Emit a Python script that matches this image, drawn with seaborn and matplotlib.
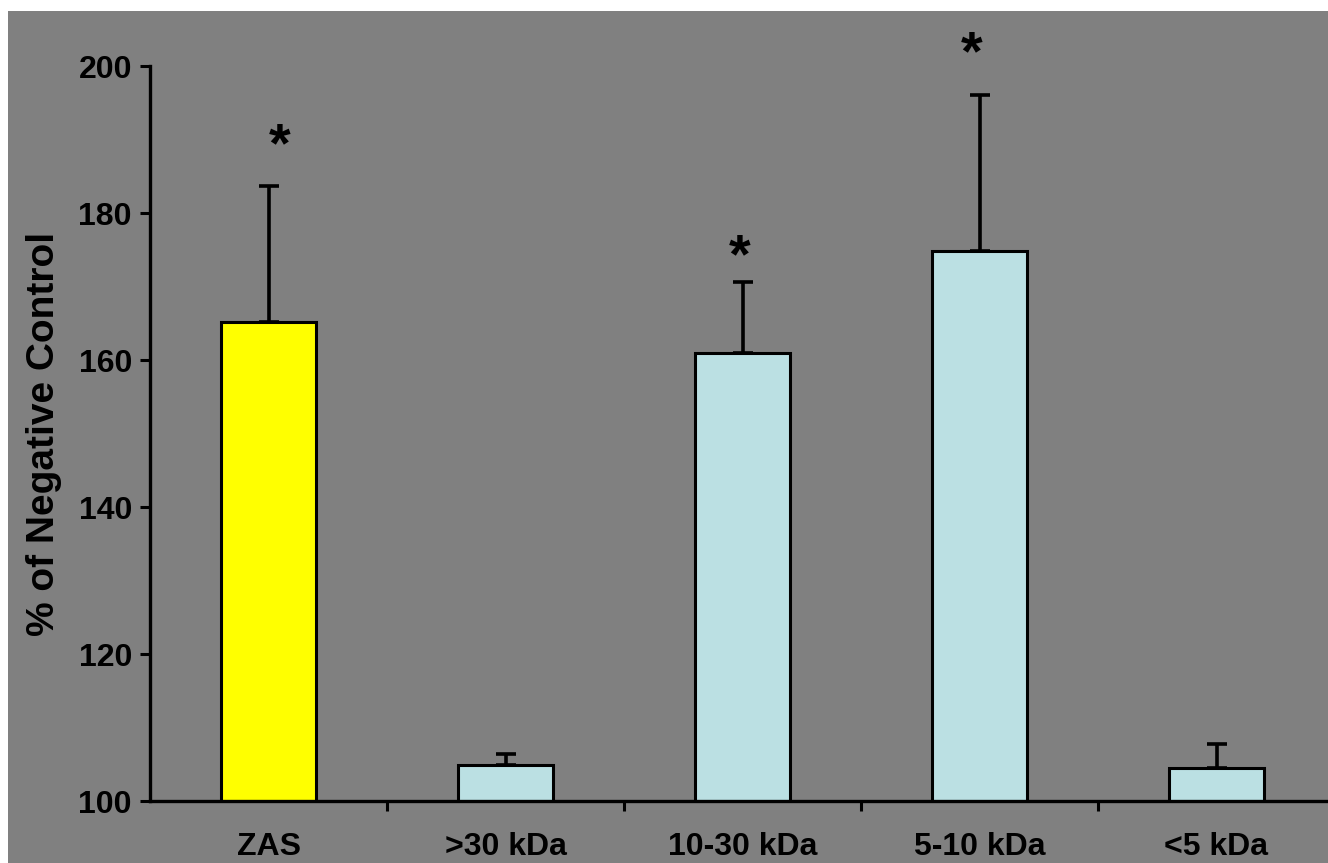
import matplotlib
matplotlib.use('Agg')
import matplotlib.pyplot as plt
import seaborn as sns
import numpy as np
from matplotlib.patches import Rectangle

# Données
categories = ['ZAS', '>30 kDa', '10-30 kDa', '5-10 kDa', '<5 kDa']
values = [165.2, 104.9, 161.0, 174.8, 104.5]
errors = [18.5, 1.5, 9.6, 21.2, 3.3]
bar_colors = ['#FFFF00', '#BBE0E3', '#BBE0E3', '#BBE0E3', '#BBE0E3']
significant = [True, False, True, True, False]

# placement des astérisques (décalage x, hauteur y)
star_pos = {0: (0.045, 189.0), 2: (-0.01, 173.8), 3: (-0.035, 201.5)}

sns.set_style('ticks')
plt.rcParams['font.family'] = ['Liberation Sans', 'DejaVu Sans']
plt.rcParams['font.weight'] = 'bold'
plt.rcParams['text.color'] = 'black'
plt.rcParams['axes.labelcolor'] = 'black'
plt.rcParams['xtick.color'] = 'black'
plt.rcParams['ytick.color'] = 'black'

fig = plt.figure(figsize=(13.28, 8.63), dpi=100)
fig.patch.set_facecolor('white')
fig.patches.append(Rectangle((8 / 1328, 0), 1, 1 - 11 / 863, transform=fig.transFigure,
                             facecolor='#808080', edgecolor='none', zorder=-10))

ax = fig.add_axes([150 / 1328, 1 - 801 / 863, 1185 / 1328, 735 / 863])
ax.set_facecolor('none')

sns.barplot(x=categories, y=values, hue=categories, palette=bar_colors, legend=False,
            width=0.4, edgecolor='black', linewidth=2.2, saturation=1, ax=ax)

x = np.arange(len(categories))
ax.errorbar(x, values, yerr=[np.zeros(len(errors)), errors], fmt='none',
            ecolor='black', elinewidth=2.6, capsize=7, capthick=2.6, zorder=1)

for i, sig in enumerate(significant):
    if sig:
        dx, sy = star_pos[i]
        ax.text(x[i] + dx, sy, '*', ha='center', va='center', fontsize=40,
                fontweight='bold', clip_on=False)

ax.set_ylim(100, 200)
ax.set_xlim(-0.5, 4.5)
ax.set_yticks(np.arange(100, 201, 20))
ax.set_xticks(np.arange(0.5, 4, 1))
ax.set_xticklabels([])
ax.set_xticks(x, minor=True)
ax.set_xticklabels(categories, minor=True)
ax.tick_params(axis='x', which='minor', length=0, pad=22, labelsize=23)
ax.tick_params(axis='x', which='major', length=7, width=2.2, direction='out')
ax.tick_params(axis='y', length=7, width=2.2, direction='out', pad=6, labelsize=23)

for s in ['top', 'right']:
    ax.spines[s].set_visible(False)
for s in ['left', 'bottom']:
    ax.spines[s].set_linewidth(2.4)
    ax.spines[s].set_color('black')

ax.set_xlabel('')
ax.set_ylabel('% of Negative Control', fontsize=28, fontweight='bold', labelpad=12)

fig.savefig('out.png', dpi=100)
